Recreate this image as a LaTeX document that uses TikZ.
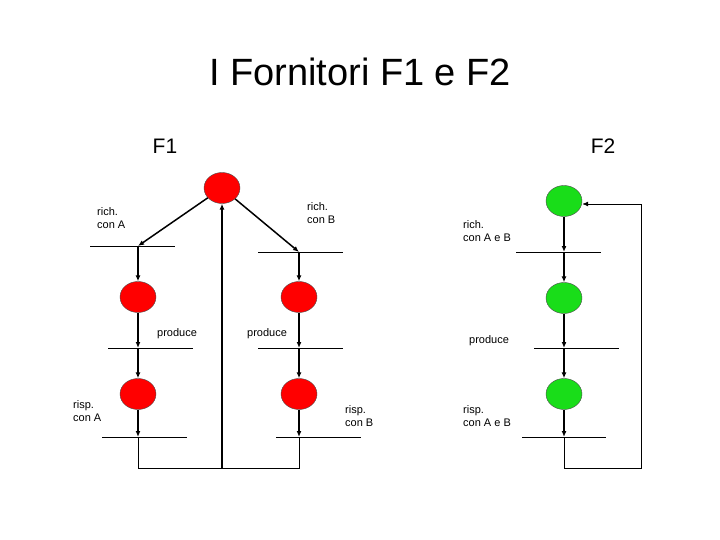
\documentclass[tikz,border=0pt]{standalone}
\usepackage{fontspec}
\setmainfont{Liberation Sans}
\usetikzlibrary{arrows.meta,shapes.geometric}
\begin{document}
\begin{tikzpicture}[x=1pt,y=-1pt,
  red/.style={ellipse,draw=black!70,fill=red,minimum width=36pt,minimum height=31pt,inner sep=0},
  grn/.style={ellipse,draw=black!70,fill=green!85!black!90,minimum width=36pt,minimum height=31pt,inner sep=0},
  arr/.style={line width=1.5pt,-{Latex[length=6pt,width=5pt]}},
  bar/.style={line width=0.8pt},
  thin/.style={line width=0.8pt},
  lab/.style={font=\fontsize{11}{13}\selectfont,align=left,inner sep=0}]
\useasboundingbox (0,0) rectangle (720,540);
\fill[white] (0,0) rectangle (720,540);
\node[font=\fontsize{38}{40}\selectfont] (title) at (360,72) {I Fornitori F1 e F2};
\node[font=\fontsize{21}{24}\selectfont] (f1) at (165,146) {F1};
\node[font=\fontsize{21}{24}\selectfont] (f2) at (603,146) {F2};
% nodes
\node[red] (t) at (222,188) {};
\node[red] (a1) at (138,297) {};
\node[red] (a2) at (138,394) {};
\node[red] (b1) at (299,297) {};
\node[red] (b2) at (299,394) {};
\node[grn] (g0) at (564,201) {};
\node[grn] (g1) at (564,298) {};
\node[grn] (g2) at (564,394) {};
% bar points
\coordinate (ra) at (138,246); \coordinate (pa) at (138,348); \coordinate (sa) at (138,437);
\coordinate (rb) at (299,252); \coordinate (pb) at (299,348); \coordinate (sb) at (299,437);
\coordinate (rg) at (564,252); \coordinate (pg) at (564,348); \coordinate (sg) at (564,437);
\draw[bar] (90,246) -- (175,246);
\draw[bar] (108,348) -- (193,348);
\draw[bar] (102,437) -- (187,437);
\draw[bar] (258,252) -- (343,252);
\draw[bar] (258,348) -- (343,348);
\draw[bar] (276,437) -- (361,437);
\draw[bar] (516,252) -- (601,252);
\draw[bar] (534,348) -- (619,348);
\draw[bar] (522,437) -- (606,437);
% arrows
\draw[arr] (t) -- (ra);
\draw[arr] (t) -- (rb);
\draw[arr] (ra) -- (a1);
\draw[arr] (a1) -- (pa);
\draw[arr] (pa) -- (a2);
\draw[arr] (a2) -- (sa);
\draw[arr] (rb) -- (b1);
\draw[arr] (b1) -- (pb);
\draw[arr] (pb) -- (b2);
\draw[arr] (b2) -- (sb);
\draw[arr] (g0) -- (rg);
\draw[arr] (rg) -- (g1);
\draw[arr] (g1) -- (pg);
\draw[arr] (pg) -- (g2);
\draw[arr] (g2) -- (sg);
% returns
\coordinate (m) at (222,468);
\draw[thin] (sa) -- (138,468) -- (299,468) -- (sb);
\draw[arr] (m) -- (t);
\draw[thin] (sg) -- (564,468) -- (641,468) -- (641,204);
\coordinate (gr) at (641,204);
\draw[arr,line width=0.8pt] (gr) -- (g0.east |- gr);
% labels
\node[lab,anchor=north west] (l1) at (97,207) {rich.\\con A};
\node[lab,anchor=north west] (l2) at (307,202) {rich.\\con B};
\node[lab,anchor=north west] (l3) at (463,220) {rich.\\con A e B};
\node[lab,anchor=north west] (l4) at (157,328) {produce};
\node[lab,anchor=north west] (l5) at (247,328) {produce};
\node[lab,anchor=north west] (l6) at (469,335) {produce};
\node[lab,anchor=north west] (l7) at (73,400) {risp.\\con A};
\node[lab,anchor=north west] (l8) at (345,405) {risp.\\con B};
\node[lab,anchor=north west] (l9) at (463,405) {risp.\\con A e B};
\end{tikzpicture}
\end{document}
